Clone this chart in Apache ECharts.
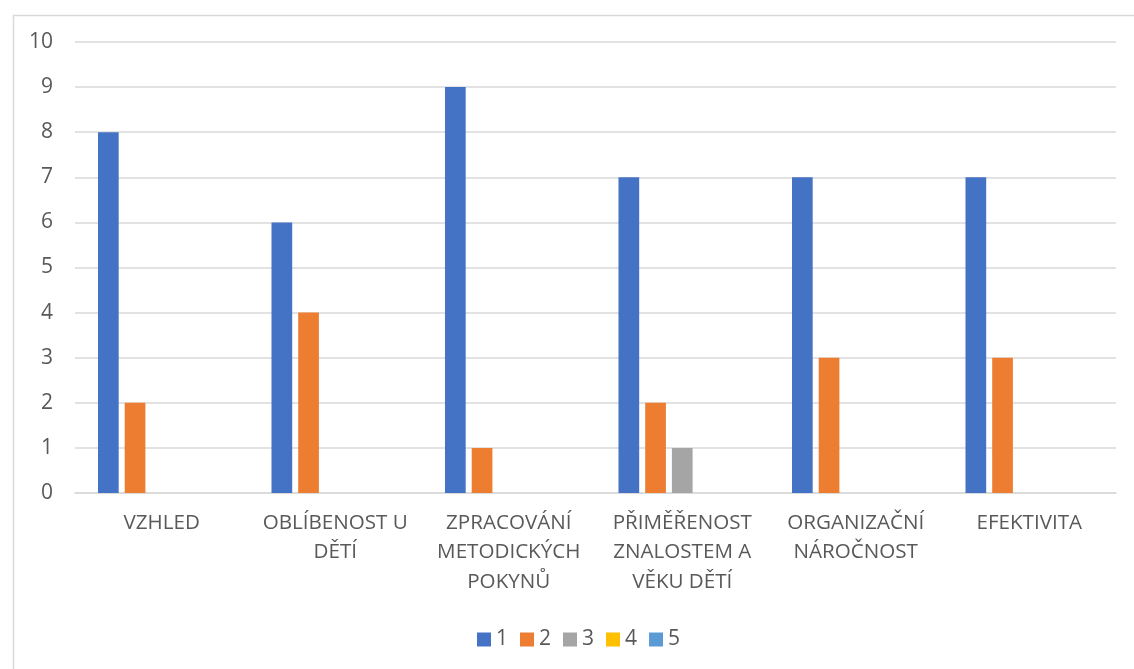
<!DOCTYPE html>
<html><head><meta charset="utf-8">
<script src="https://cdn.jsdelivr.net/npm/echarts@6/dist/echarts.min.js"></script>
<style>html,body{margin:0;padding:0;background:#fff}#c{width:1134px;height:669px}</style>
</head><body><div id="c"></div>
<script>
const categories = ["VZHLED", "OBLÍBENOST U\nDĚTÍ", "ZPRACOVÁNÍ\nMETODICKÝCH\nPOKYNŮ", "PŘIMĚŘENOST\nZNALOSTEM A\nVĚKU DĚTÍ", "ORGANIZAČNÍ\nNÁROČNOST", "EFEKTIVITA"];
const seriesNames = ["1", "2", "3", "4", "5"];
const s1 = [8, 6, 9, 7, 7, 7];
const s2 = [2, 4, 1, 2, 3, 3];
const s3 = [0, 0, 0, 1, 0, 0];
const s4 = [0, 0, 0, 0, 0, 0];
const s5 = [0, 0, 0, 0, 0, 0];
const colors = ["#4472C4", "#ED7D31", "#A5A5A5", "#FFC000", "#5B9BD5"];
const values = [s1, s2, s3, s4, s5];
const font = "Open Sans, Liberation Sans, sans-serif";
const chart = echarts.init(document.getElementById('c'), null, {renderer: 'canvas'});
chart.setOption({
  animation: false,
  color: colors,
  graphic: [{type: 'rect', left: 11, top: 13, shape: {width: 1200, height: 700}, style: {fill: 'none', stroke: '#d9d9d9', lineWidth: 1.5}, silent: true, z: -1}],
  grid: {left: 75, right: 18, top: 42, bottom: 176, containLabel: false},
  legend: {
    top: 629, left: 477, padding: 0, itemWidth: 14, itemHeight: 14, itemGap: 12,
    icon: 'rect',
    textStyle: {fontSize: 21, color: '#595959', fontFamily: font, padding: [0,0,0,0]},
    data: seriesNames
  },
  xAxis: {
    type: 'category', data: categories,
    axisLine: {lineStyle: {color: '#d9d9d9', width: 1.5}},
    axisTick: {show: false},
    axisLabel: {fontSize: 20.6, color: '#595959', fontFamily: font, lineHeight: 29.5, margin: 15, interval: 0}
  },
  yAxis: {
    type: 'value', min: 0, max: 10, interval: 1,
    axisLine: {show: false}, axisTick: {show: false},
    splitLine: {lineStyle: {color: '#d9d9d9', width: 1.5}},
    axisLabel: {fontSize: 21, color: '#595959', fontFamily: font, margin: 22}
  },
  series: seriesNames.map((n, i) => ({
    name: n, type: 'bar', data: values[i],
    barGap: '29%', barCategoryGap: '26.5%'
  }))
});
</script></body></html>
